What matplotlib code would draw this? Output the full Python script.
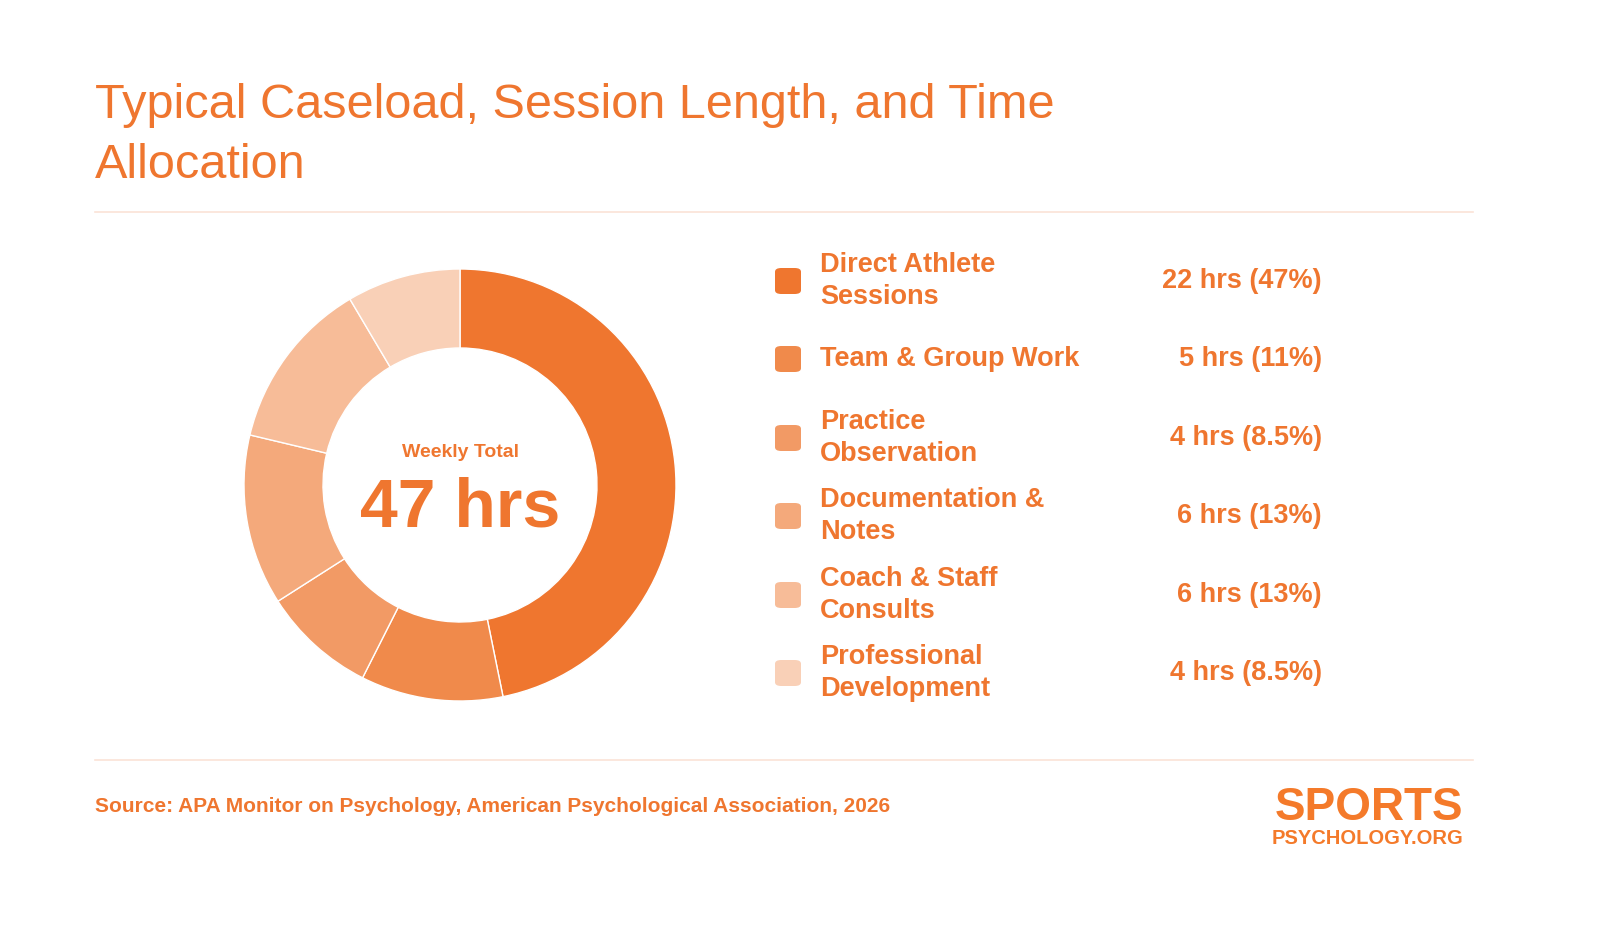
import matplotlib.pyplot as plt
from matplotlib.patches import FancyBboxPatch

plt.rcParams['font.family'] = ['Liberation Sans', 'DejaVu Sans']

labels = ['Direct Athlete\nSessions', 'Team & Group Work', 'Practice\nObservation',
          'Documentation &\nNotes', 'Coach & Staff\nConsults', 'Professional\nDevelopment']
hours = [22, 5, 4, 6, 6, 4]
value_labels = ['22 hrs (47%)', '5 hrs (11%)', '4 hrs (8.5%)', '6 hrs (13%)', '6 hrs (13%)', '4 hrs (8.5%)']
colors = ['#EF762F', '#F08A4B', '#F29A65', '#F4A97B', '#F7BC98', '#F9D0B7']
orange = '#EF762F'

W, H = 1600, 936
fig = plt.figure(figsize=(16, 9.36), dpi=100)

def fx(x): return x / W
def fy(y): return 1 - y / H

fig.text(fx(95), fy(105), 'Typical Caseload, Session Length, and Time', fontsize=35,
         color=orange, va='center')
fig.text(fx(95), fy(165), 'Allocation', fontsize=35, color=orange, va='center')
for y in (212, 760):
    fig.add_artist(plt.Line2D([fx(95), fx(1473)], [fy(y), fy(y)], color='#FBE3D7', lw=1.2))

# donut
r = 216
ax = fig.add_axes([fx(460 - r), fy(485 + r), 2 * r / W, 2 * r / H])
ax.pie(hours, colors=colors, startangle=90, counterclock=False,
       wedgeprops=dict(width=79 / r, edgecolor='white', linewidth=1))
ax.set_aspect('auto')
ax.set_xlim(-1, 1)
ax.set_ylim(-1, 1)
ax.text(0, 0.15, 'Weekly Total', ha='center', va='center', fontsize=14, fontweight='bold', color=orange)
ax.text(0, -0.11, '47 hrs', ha='center', va='center', fontsize=49, fontweight='bold', color=orange)

# legend
ys = [281, 359, 438, 516, 595, 673]
for lab, val, c, y in zip(labels, value_labels, colors, ys):
    fig.add_artist(FancyBboxPatch((fx(775), fy(y + 13)), 26 / W, 26 / H,
                                  boxstyle='round,pad=0,rounding_size=0.004',
                                  transform=fig.transFigure, facecolor=c, edgecolor='none'))
    fig.text(fx(820), fy(y), lab, fontsize=19.5, fontweight='bold', color=orange,
             va='center', linespacing=1.3)
    fig.text(fx(1322), fy(y), val, fontsize=19.5, fontweight='bold', color=orange,
             va='center', ha='right')

fig.text(fx(95), fy(806), 'Source: APA Monitor on Psychology, American Psychological Association, 2026',
         fontsize=15, fontweight='bold', color=orange, va='center')
fig.text(fx(1463), fy(808), 'SPORTS', fontsize=33, fontweight='bold', color='#F47A2A',
         va='center', ha='right')
fig.text(fx(1463), fy(838), 'PSYCHOLOGY.ORG', fontsize=14.5, fontweight='bold', color='#F47A2A',
         va='center', ha='right')

fig.savefig('out.png', dpi=100, facecolor='white')
